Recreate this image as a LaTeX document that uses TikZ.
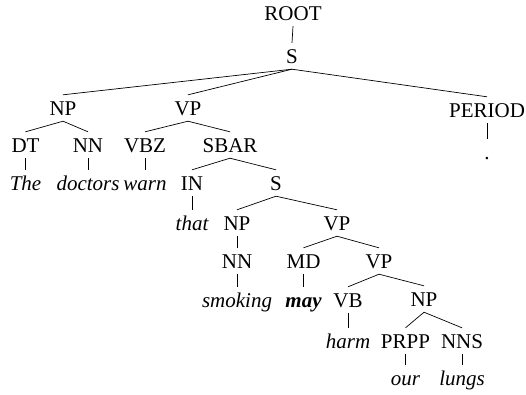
\documentclass[tikz,border=0pt]{standalone}
\usepackage{fontspec}
\setmainfont{Liberation Serif}
\newfontfamily\treefont{Liberation Serif}
\begin{document}
\begin{tikzpicture}[x=1pt,y=-1pt,
  every node/.style={font=\treefont\fontsize{21}{25}\selectfont, anchor=base, text height=14pt, text depth=0pt, inner xsep=1pt, inner ysep=6pt},
  cat/.style={},
  word/.style={font=\treefont\fontsize{21}{25}\selectfont\itshape},
  bword/.style={font=\treefont\fontsize{21}{25}\selectfont\bfseries\itshape},
  edge/.style={draw=black, line width=0.7pt}]
\useasboundingbox (0,0) rectangle (526,394);
\node[cat] (root) at (293,20) {ROOT};
\node[cat] (s1) at (292,63) {S};
\node[cat] (np1) at (63,115) {NP};
\node[cat] (vp1) at (188,115) {VP};
\node[cat] (period) at (487,117) {PERIOD};
\node[cat] (dt) at (25.5,152) {DT};
\node[cat] (nn1) at (88,152) {NN};
\node[cat] (vbz) at (145,152) {VBZ};
\node[cat] (sbar) at (230,152) {SBAR};
\node[cat] (dot) at (487,159) {.};
\node[word] (the) at (25.5,190) {The};
\node[word] (doctors) at (88,190) {doctors};
\node[word] (warn) at (145,190) {warn};
\node[cat] (in) at (192,190) {IN};
\node[cat] (s2) at (276,190) {S};
\node[word] (that) at (192,230) {that};
\node[cat] (np2) at (237,230) {NP};
\node[cat] (vp2) at (337,230) {VP};
\node[cat] (nn2) at (237,268) {NN};
\node[cat] (md) at (303.5,268) {MD};
\node[cat] (vp3) at (379,268) {VP};
\node[word] (smoking) at (237,307) {smoking};
\node[bword] (may) at (303.5,307) {may};
\node[cat] (vb) at (348,307) {VB};
\node[cat] (np3) at (424,306) {NP};
\node[word] (harm) at (348,348) {harm};
\node[cat] (prpp) at (405.5,348) {PRPP};
\node[cat] (nns) at (462,348) {NNS};
\node[word] (our) at (405.5,385) {our};
\node[word] (lungs) at (462,385) {lungs};
\foreach \p/\c in {root/s1, s1/np1, s1/vp1, s1/period, period/dot,
  np1/dt, np1/nn1, dt/the, nn1/doctors, vp1/vbz, vp1/sbar, vbz/warn,
  sbar/in, sbar/s2, in/that, s2/np2, s2/vp2, np2/nn2, nn2/smoking,
  vp2/md, vp2/vp3, md/may, vp3/vb, vp3/np3, vb/harm, np3/prpp, np3/nns,
  prpp/our, nns/lungs}
  \draw[edge] (\p.south) -- (\c.north);
\end{tikzpicture}
\end{document}
